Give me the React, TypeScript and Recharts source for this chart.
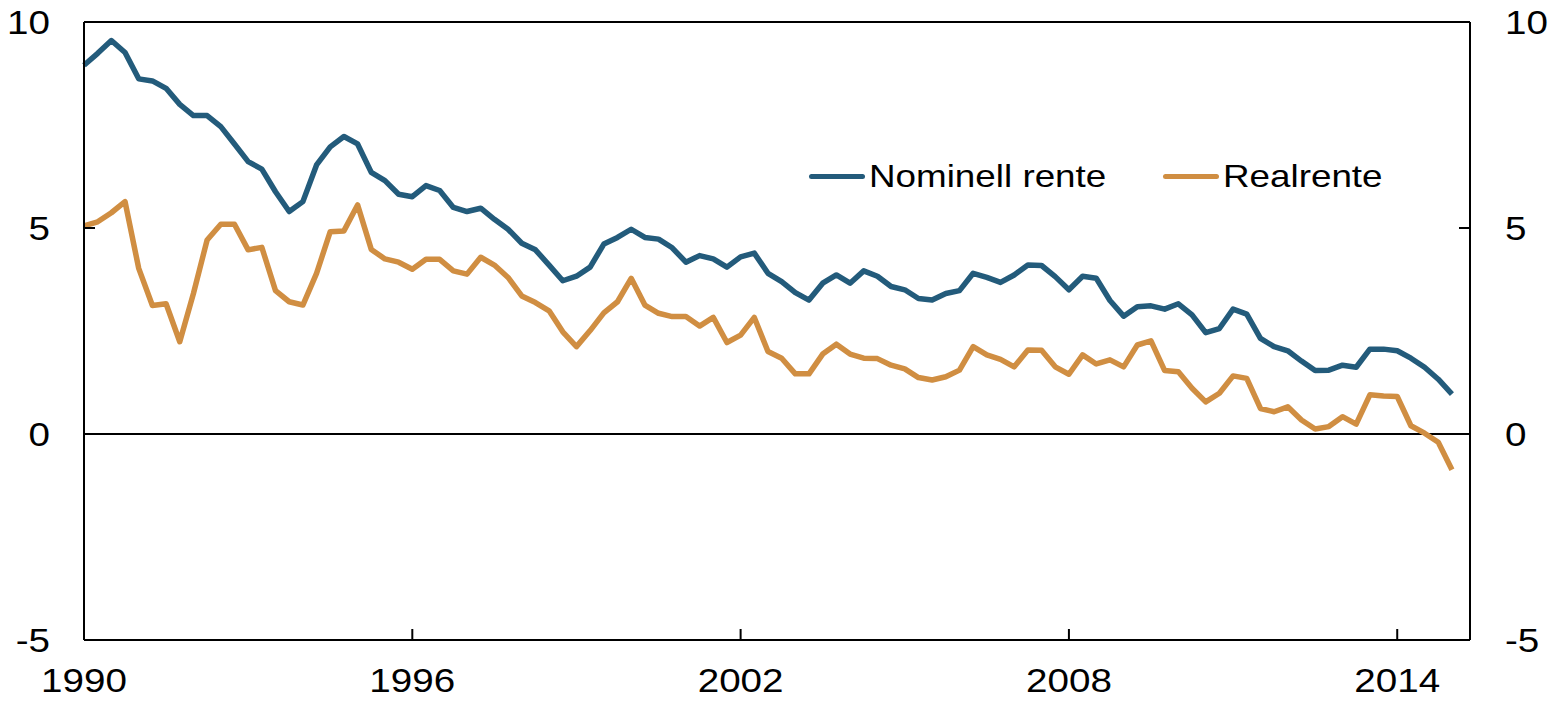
import { LineChart, Line, XAxis, YAxis, ReferenceLine } from 'recharts';

// Quarterly series, 1990 Q1 - 2015 Q1
const startYear = 1990;

const nominell = [
  8.95, 9.24, 9.55, 9.26, 8.62, 8.57, 8.39, 8.0, 7.73, 7.73,
  7.46, 7.04, 6.61, 6.43, 5.88, 5.4, 5.64, 6.53, 6.97, 7.22,
  7.04, 6.35, 6.15, 5.82, 5.76, 6.03, 5.91, 5.5, 5.4, 5.48,
  5.21, 4.97, 4.63, 4.47, 4.1, 3.72, 3.83, 4.05, 4.61, 4.77,
  4.97, 4.77, 4.73, 4.52, 4.17, 4.33, 4.25, 4.05, 4.3, 4.39,
  3.9, 3.7, 3.43, 3.25, 3.66, 3.86, 3.66, 3.96, 3.83, 3.58,
  3.5, 3.29, 3.25, 3.41, 3.48, 3.9, 3.8, 3.68, 3.86, 4.1,
  4.09, 3.82, 3.5, 3.83, 3.78, 3.24, 2.86, 3.09, 3.11, 3.03,
  3.16, 2.89, 2.46, 2.56, 3.03, 2.91, 2.32, 2.12, 2.02, 1.77,
  1.54, 1.55, 1.67, 1.62, 2.06, 2.06, 2.02, 1.84, 1.62, 1.33,
  0.97,
];

const realrente = [
  5.05, 5.15, 5.37, 5.64, 4.02, 3.12, 3.16, 2.24, 3.41, 4.71,
  5.09, 5.09, 4.47, 4.53, 3.48, 3.21, 3.13, 3.9, 4.91, 4.93,
  5.56, 4.48, 4.25, 4.17, 4.0, 4.24, 4.24, 3.96, 3.88, 4.29,
  4.1, 3.8, 3.35, 3.19, 2.99, 2.48, 2.12, 2.51, 2.94, 3.21,
  3.78, 3.13, 2.93, 2.85, 2.85, 2.62, 2.83, 2.22, 2.4, 2.83,
  2.0, 1.84, 1.46, 1.46, 1.94, 2.18, 1.94, 1.84, 1.83, 1.67,
  1.58, 1.37, 1.31, 1.39, 1.55, 2.12, 1.92, 1.81, 1.63, 2.04,
  2.03, 1.63, 1.45, 1.92, 1.7, 1.8, 1.63, 2.16, 2.26, 1.54,
  1.51, 1.11, 0.78, 0.99, 1.41, 1.35, 0.62, 0.54, 0.66, 0.34,
  0.12, 0.18, 0.42, 0.24, 0.95, 0.92, 0.91, 0.2, 0.02, -0.2,
  -0.87,
];

const xTicks = [1990, 1996, 2002, 2008, 2014];
const yTicks = [-5, 0, 5, 10];

const BLUE = '#235b7b';
const ORANGE = '#d08e42';
const FONT = '"Liberation Sans", Arial, sans-serif';

const data = nominell.map((v, i) => ({
  t: startYear + i / 4,
  nominell: v,
  real: realrente[i],
}));

// tick labels in the original look slightly wide, so stretch them a bit
function StretchedTick(props: any) {
  const { x, y, payload, anchor, dy } = props;
  return (
    <text
      transform={`translate(${x},${y}) scale(1.17,1)`}
      textAnchor={anchor}
      dy={dy}
      fontSize={33}
      fontFamily={FONT}
      fill="#000"
    >
      {payload.value}
    </text>
  );
}

function ChartLegend() {
  const items = [
    { label: 'Nominell rente', color: BLUE, width: 354 },
    { label: 'Realrente', color: ORANGE, width: 230 },
  ];
  return (
    <div style={{ position: 'absolute', left: 809, top: 158, display: 'flex', alignItems: 'center' }}>
      {items.map((it) => (
        <div key={it.label} style={{ display: 'flex', alignItems: 'center', width: it.width }}>
          <span
            style={{
              display: 'inline-block',
              width: 56,
              height: 5,
              borderRadius: 3,
              background: it.color,
              marginRight: 4,
            }}
          />
          <span
            style={{
              display: 'inline-block',
              fontSize: 32,
              fontFamily: FONT,
              color: '#000',
              transform: 'scaleX(1.15)',
              transformOrigin: 'left center',
              whiteSpace: 'nowrap',
              lineHeight: '36px',
            }}
          >
            {it.label}
          </span>
        </div>
      ))}
    </div>
  );
}

export default function App() {
  return (
    <div style={{ position: 'absolute', left: 0, top: 0, width: 1553, height: 701, background: '#fff' }}>
      <LineChart width={1553} height={701} data={data} margin={{ top: 22, right: 0, left: 0, bottom: 0 }}>
        <XAxis
          dataKey="t"
          type="number"
          domain={[1990, 2015.33]}
          ticks={xTicks}
          height={61}
          axisLine={{ stroke: '#000', strokeWidth: 2 }}
          tickLine={{ stroke: '#000', strokeWidth: 2 }}
          tickSize={-11}
          tickMargin={11}
          tick={(p: any) => <StretchedTick {...p} anchor="middle" dy={52} />}
          interval={0}
        />
        <YAxis
          yAxisId="left"
          domain={[-5, 10]}
          ticks={yTicks}
          width={84}
          axisLine={{ stroke: '#000', strokeWidth: 2 }}
          tickLine={{ stroke: '#000', strokeWidth: 2 }}
          tickSize={-11}
          tickMargin={45}
          tick={(p: any) => <StretchedTick {...p} anchor="end" dy={12} />}
          interval={0}
        />
        <YAxis
          yAxisId="right"
          orientation="right"
          domain={[-5, 10]}
          ticks={yTicks}
          width={83}
          axisLine={{ stroke: '#000', strokeWidth: 2 }}
          tickLine={{ stroke: '#000', strokeWidth: 2 }}
          tickSize={-11}
          tickMargin={46}
          tick={(p: any) => <StretchedTick {...p} anchor="start" dy={12} />}
          interval={0}
        />
        <ReferenceLine yAxisId="left" y={10} stroke="#000" strokeWidth={2} />
        <ReferenceLine yAxisId="left" y={0} stroke="#000" strokeWidth={2} />
        <Line
          yAxisId="left"
          type="linear"
          dataKey="nominell"
          stroke={BLUE}
          strokeWidth={5.5}
          strokeLinejoin="round"
          dot={false}
          isAnimationActive={false}
        />
        {/* same scale as the left axis; bound to the right axis so it gets ticks */}
        <Line
          yAxisId="right"
          type="linear"
          dataKey="real"
          stroke={ORANGE}
          strokeWidth={5.5}
          strokeLinejoin="round"
          dot={false}
          isAnimationActive={false}
        />
      </LineChart>
      <ChartLegend />
    </div>
  );
}
